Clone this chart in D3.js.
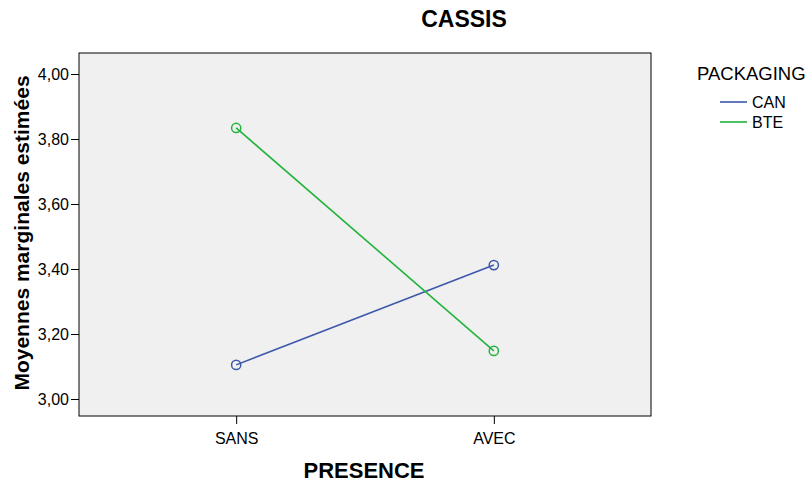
<!DOCTYPE html>
<html><head><meta charset="utf-8">
<script src="https://cdn.jsdelivr.net/npm/d3@7"></script>
<style>body{margin:0;background:#fff;} text{font-family:Arial,"Liberation Sans",sans-serif;}</style>
</head><body>
<svg id="c" width="807" height="485"></svg>
<script>
const categories = ["SANS", "AVEC"];
const seriesNames = ["CAN", "BTE"];
const canValues = [3.105, 3.412];
const bteValues = [3.834, 3.148];
const yTicks = [3.0, 3.2, 3.4, 3.6, 3.8, 4.0];
const colors = ["#3e58ac", "#21b33c"];

const series = [
  {name: seriesNames[0], values: canValues, color: colors[0]},
  {name: seriesNames[1], values: bteValues, color: colors[1]}
];

const svg = d3.select("#c");
const L = 79, R = 651, T = 53, B = 416;

const x = d3.scalePoint().domain(categories).range([L, R]).padding(0.61);
const y = d3.scaleLinear().domain([3, 4]).range([399, 74]);

svg.append("rect").attr("x", L).attr("y", T).attr("width", R - L).attr("height", B - T)
  .attr("fill", "#f0f0f0").attr("stroke", "#000").attr("stroke-width", 1);

const yAxis = svg.append("g").attr("transform", `translate(${L},0)`)
  .call(d3.axisLeft(y).tickValues(yTicks).tickSize(8).tickPadding(2)
    .tickFormat(d => d3.format(".2f")(d).replace(".", ",")));
yAxis.select(".domain").remove();
yAxis.attr("font-size", null).attr("font-family", null);
yAxis.selectAll("text").style("font-size", "16px").attr("fill", "#000");

const xAxis = svg.append("g").attr("transform", `translate(0,${B})`)
  .call(d3.axisBottom(x).tickSize(8).tickPadding(9));
xAxis.select(".domain").remove();
xAxis.attr("font-size", null).attr("font-family", null);
xAxis.selectAll("text").style("font-size", "16px").attr("fill", "#000");

const line = d3.line().x((d, i) => x(categories[i])).y(d => y(d));
series.forEach(s => {
  svg.append("path").datum(s.values).attr("d", line)
    .attr("fill", "none").attr("stroke", s.color).attr("stroke-width", 1.6);
  svg.selectAll(null).data(s.values).enter().append("circle")
    .attr("cx", (d, i) => x(categories[i])).attr("cy", d => y(d)).attr("r", 4.6)
    .attr("fill", "none").attr("stroke", s.color).attr("stroke-width", 1.5);
});

svg.append("text").attr("x", 464).attr("y", 27).attr("text-anchor", "middle")
  .style("font-size", "23px").attr("font-weight", "bold").text("CASSIS");
svg.append("text").attr("x", 364).attr("y", 478).attr("text-anchor", "middle")
  .style("font-size", "22px").attr("font-weight", "bold").text("PRESENCE");
svg.append("text").attr("transform", "translate(29,233) rotate(-90)").attr("text-anchor", "middle")
  .style("font-size", "21px").attr("font-weight", "bold").text("Moyennes marginales estimées");

const lg = svg.append("g");
lg.append("text").attr("x", 697).attr("y", 80).style("font-size", "18.5px").text("PACKAGING");
series.forEach((s, i) => {
  const yy = 102 + i * 20;
  lg.append("line").attr("x1", 720).attr("x2", 747).attr("y1", yy).attr("y2", yy)
    .attr("stroke", s.color).attr("stroke-width", 1.6);
  lg.append("text").attr("x", 752).attr("y", yy + 6).style("font-size", "16px").text(s.name);
});
</script>
</body></html>
